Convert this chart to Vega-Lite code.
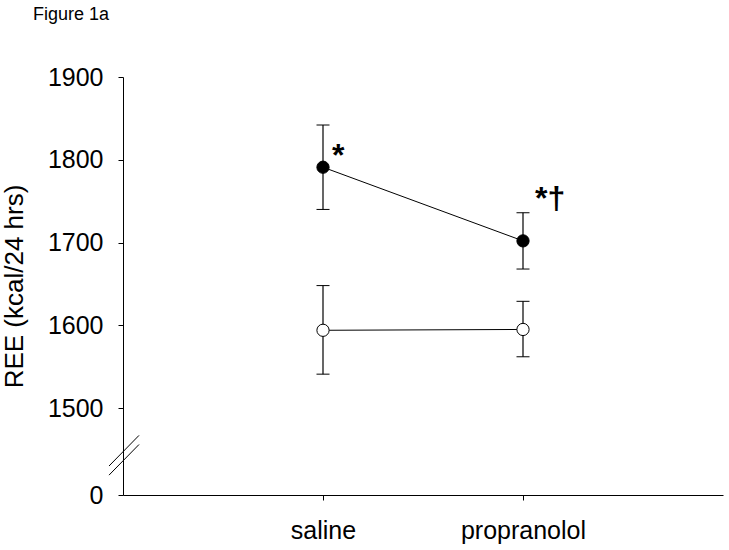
{
  "$schema": "https://vega.github.io/schema/vega-lite/v6.json",
  "autosize": {"type": "none"},
  "padding": {"left": 123, "top": 77, "right": 6, "bottom": 55},
  "width": 600,
  "height": 418,
  "background": "white",
  "title": {"text": "Figure 1a", "anchor": "start", "frame": "group", "dx": -90, "fontSize": 18, "fontWeight": "normal", "font": "Liberation Sans", "color": "black", "offset": 41},
  "config": {
    "view": {"stroke": null},
    "axis": {"grid": false, "domainColor": "black", "tickColor": "black", "labelColor": "black", "titleColor": "black", "labelFont": "Liberation Sans", "titleFont": "Liberation Sans", "labelFontSize": 25, "titleFontSize": 26, "titleFontWeight": "normal", "tickSize": 5, "domainWidth": 1, "tickWidth": 1}
  },
  "datasets": {
    "pts": [
      {"cond": "saline", "x": 1, "group": "filled", "mean": 1791, "lo": 1740, "hi": 1842},
      {"cond": "propranolol", "x": 2, "group": "filled", "mean": 1702, "lo": 1668, "hi": 1736},
      {"cond": "saline", "x": 1, "group": "open", "mean": 1594, "lo": 1541, "hi": 1648},
      {"cond": "propranolol", "x": 2, "group": "open", "mean": 1595, "lo": 1562, "hi": 1629}
    ],
    "notes": [
      {"x": 1.045, "y": 1792, "label": "*"},
      {"x": 2.06, "y": 1741, "label": "*†"}
    ],
    "brk": [
      {"bx": -0.07, "bx2": 0.08, "by": 1430, "by2": 1467},
      {"bx": -0.07, "bx2": 0.08, "by": 1419, "by2": 1456}
    ]
  },
  "encoding": {
    "x": {"type": "quantitative", "scale": {"domain": [0, 3], "nice": false, "zero": false},
      "axis": {"values": [1, 2], "labelExpr": "datum.value == 1 ? 'saline' : 'propranolol'", "title": null, "labelPadding": 18}},
    "y": {"type": "quantitative", "scale": {"domain": [1395, 1900], "nice": false, "zero": false},
      "axis": {"values": [1395, 1500, 1600, 1700, 1800, 1900], "labelExpr": "datum.value < 1450 ? '0' : format(datum.value, 'd')", "title": "REE (kcal/24 hrs)", "labelPadding": 15, "titlePadding": 20}}
  },
  "layer": [
    {
      "data": {"name": "pts"},
      "mark": {"type": "errorbar", "color": "black", "opacity": 1, "ticks": {"size": 13, "color": "black", "strokeWidth": 1.2, "opacity": 1}, "rule": {"color": "black", "strokeWidth": 1.2, "opacity": 1}},
      "encoding": {"x": {"field": "x"}, "y": {"field": "lo"}, "y2": {"field": "hi"}}
    },
    {
      "data": {"name": "pts"},
      "mark": {"type": "line", "color": "black", "strokeWidth": 1},
      "encoding": {"x": {"field": "x"}, "y": {"field": "mean"}, "detail": {"field": "group"}}
    },
    {
      "data": {"name": "pts"},
      "mark": {"type": "point", "shape": "circle", "filled": true, "stroke": "black", "strokeWidth": 1, "size": 150, "opacity": 1},
      "encoding": {"x": {"field": "x"}, "y": {"field": "mean"},
        "fill": {"field": "group", "type": "nominal", "scale": {"domain": ["filled", "open"], "range": ["black", "white"]}, "legend": null}}
    },
    {
      "data": {"name": "notes"},
      "mark": {"type": "text", "align": "left", "baseline": "alphabetic", "fontSize": 32, "fontWeight": "bold", "font": "Liberation Sans", "color": "black"},
      "encoding": {"x": {"field": "x"}, "y": {"field": "y"}, "text": {"field": "label"}}
    },
    {
      "data": {"name": "brk"},
      "mark": {"type": "rule", "color": "black", "strokeWidth": 1},
      "encoding": {"x": {"field": "bx"}, "x2": {"field": "bx2"}, "y": {"field": "by"}, "y2": {"field": "by2"}}
    }
  ]
}
